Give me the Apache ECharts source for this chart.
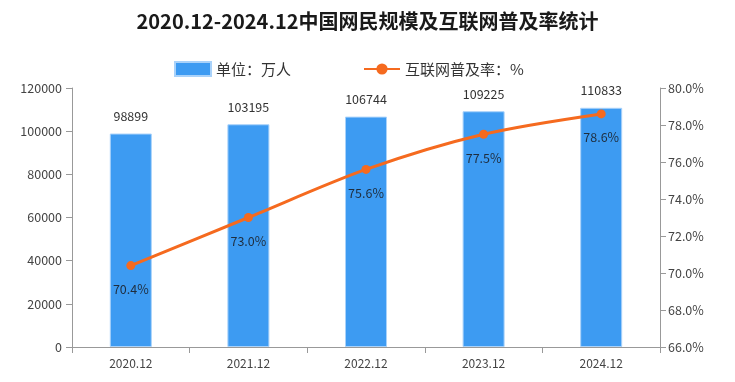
<!DOCTYPE html>
<html><head><meta charset="utf-8">
<script src="https://cdn.jsdelivr.net/npm/echarts@6/dist/echarts.min.js"></script>
<style>html,body{margin:0;padding:0;background:#fff}#c{width:735px;height:382px}</style>
</head><body><div id="c"></div>
<script>
var categories = ['2020.12','2021.12','2022.12','2023.12','2024.12'];
var netizens = [98899, 103195, 106744, 109225, 110833];
var penetration = [70.4, 73.0, 75.6, 77.5, 78.6];
var leftTicks = {min: 0, max: 120000, interval: 20000};
var rightTicks = {min: 66, max: 80, interval: 2};

var chart = echarts.init(document.getElementById('c'));
var font = '"Noto Sans CJK SC", sans-serif';
chart.setOption({
  animation: false,
  textStyle: {fontFamily: font},
  title: {text: '2020.12-2024.12中国网民规模及互联网普及率统计', left: 'center', top: 6,
    textStyle: {fontSize: 20, fontWeight: 'bold', color: '#1a1a1a', fontFamily: font}},
  legend: {top: 56, left: 169, itemGap: 72, itemWidth: 36, itemHeight: 14,
    textStyle: {fontSize: 15, color: '#333', fontFamily: font},
    data: [{name: '单位：万人', icon: 'rect'}, {name: '互联网普及率：%'}]},
  grid: {left: 72, right: 75, top: 88, bottom: 35},
  xAxis: {type: 'category', data: categories,
    axisLine: {lineStyle: {color: '#999'}},
    axisTick: {show: true, alignWithLabel: false, length: 6, lineStyle: {color: '#999'}},
    axisLabel: {color: '#444', fontSize: 12, margin: 10}},
  yAxis: [
    {type: 'value', min: leftTicks.min, max: leftTicks.max, interval: leftTicks.interval,
      axisLine: {show: true, lineStyle: {color: '#999'}},
      axisTick: {show: true, length: 6, lineStyle: {color: '#999'}},
      splitLine: {show: false},
      axisLabel: {color: '#444', fontSize: 12.5, margin: 10, formatter: function(v){return String(v);}}},
    {type: 'value', min: rightTicks.min, max: rightTicks.max, interval: rightTicks.interval,
      position: 'right',
      axisLine: {show: true, lineStyle: {color: '#999'}},
      axisTick: {show: true, length: 6, lineStyle: {color: '#999'}},
      splitLine: {show: false},
      axisLabel: {color: '#444', fontSize: 12.5, margin: 8, formatter: function(v){return v.toFixed(1)+'%';}}}
  ],
  series: [
    {name: '单位：万人', type: 'bar', data: netizens, barWidth: 42, yAxisIndex: 0,
      itemStyle: {color: '#3d9bf2', borderColor: '#a9d2fa', borderWidth: 1},
      label: {show: true, position: 'top', distance: 11, color: '#333', fontSize: 12.5}},
    {name: '互联网普及率：%', type: 'line', data: penetration, yAxisIndex: 1, smooth: 0.3,
      symbol: 'circle', symbolSize: 9,
      lineStyle: {color: '#f56a1f', width: 3},
      itemStyle: {color: '#f56a1f'},
      label: {show: true, position: 'bottom', distance: 13, color: '#1f2d3d', fontSize: 12.5,
        formatter: function(p){return p.value.toFixed(1)+'%';}}}
  ]
});
</script></body></html>
